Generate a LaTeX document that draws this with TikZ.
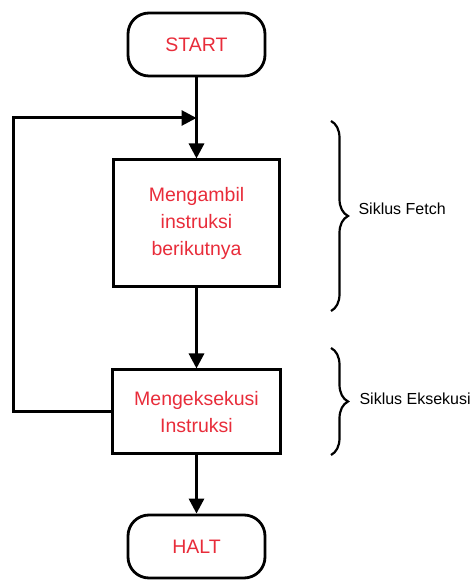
\documentclass[tikz,border=0pt]{standalone}
\usepackage{fontspec}
\setmainfont{Liberation Sans}
\usetikzlibrary{arrows.meta, decorations.pathreplacing}

\definecolor{labelred}{RGB}{232,44,58}

\tikzset{
  flowline/.style={line width=3pt},
  flowarrow/.style={flowline, -{Triangle[width=15pt,length=15pt]}},
  terminal/.style={draw, line width=2.8pt, rounded corners=21pt,
    minimum width=137pt, minimum height=63pt, text=labelred,
    font=\fontsize{19.5}{26}\selectfont},
  process/.style={draw, line width=3pt, align=center, text=labelred,
    font=\fontsize{19.5}{27}\selectfont},
  cyclebrace/.style={decorate, decoration={brace, amplitude=17pt}, line width=2.2pt},
  cyclelabel/.style={anchor=west, font=\fontsize{16}{20}\selectfont}
}

\begin{document}
\begin{tikzpicture}[x=1pt, y=1pt]
    \useasboundingbox (0,0) rectangle (472,581);
    % flow boxes
    \node[terminal] (start) at (196.5,536.5) {START};
    \node[process, minimum width=166pt, minimum height=127pt] (fetch) at (196.5,357.5)
      {Mengambil\\instruksi\\berikutnya};
    \node[process, minimum width=168pt, minimum height=84pt] (exec) at (196.5,169)
      {Mengeksekusi\\Instruksi};
    \node[terminal] (halt) at (196.5,34.5) {HALT};
    % connectors
    \coordinate (merge) at (196.5,463);
    \draw[flowarrow] (start.south) -- (fetch.north);
    \draw[flowarrow] (fetch.south) -- (exec.north);
    \draw[flowarrow] (exec.south) -- (halt.north);
    \draw[flowarrow] (exec.west) -| (13,463) -- (merge);
    % cycles
    \draw[cyclebrace] (331,460) -- (331,270);
    \draw[cyclebrace] (331,233) -- (331,126);
    \node[cyclelabel] (fetchlabel) at (355,372) {Siklus Fetch};
    \node[cyclelabel] (execlabel) at (356,182) {Siklus Eksekusi};
\end{tikzpicture}
\end{document}
